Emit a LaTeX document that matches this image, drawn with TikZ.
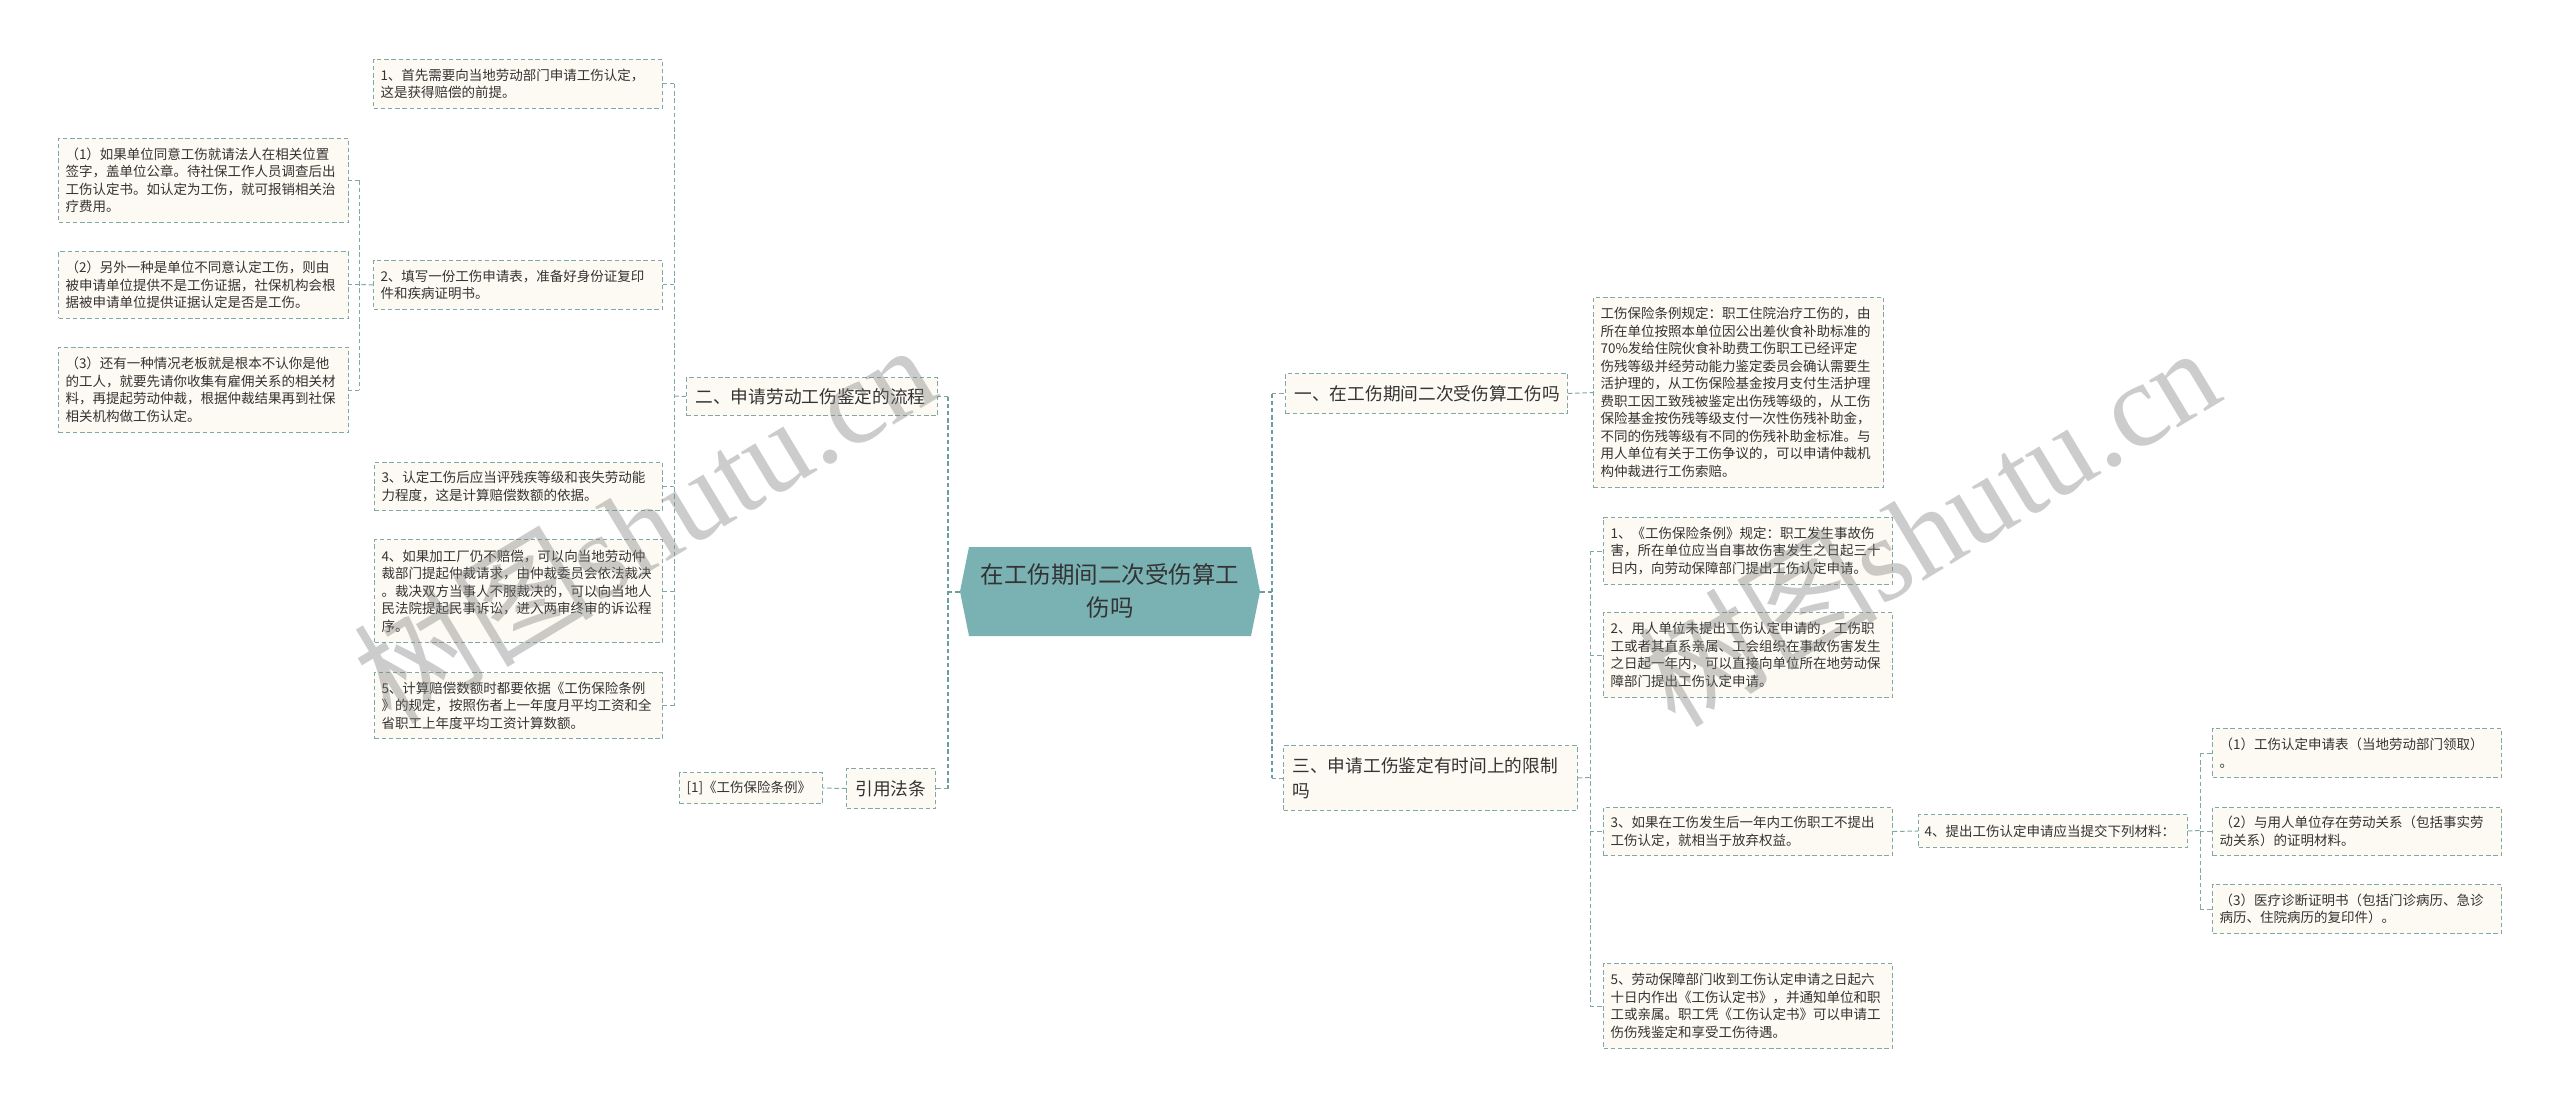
\documentclass[tikz,border=0pt]{standalone}
\usepackage{fontspec}
\setmainfont{Noto Sans CJK SC}
\newfontfamily\wmlatin{Liberation Serif}
\definecolor{lc}{HTML}{7FA9A9}
\definecolor{tl}{HTML}{6A9FA0}
\definecolor{bg}{HTML}{FCFAF2}
\definecolor{tc}{HTML}{333333}
\definecolor{cf}{HTML}{7AB2B4}
\newcommand\fsS{\fontsize{6.75pt}{8.75pt}\selectfont}
\newcommand\fsM{\fontsize{8.85pt}{12.5pt}\selectfont}
\newcommand\fsL{\fontsize{11.75pt}{16.5pt}\selectfont}
\tikzset{
  box/.style={draw=lc, line width=0.5pt, dash pattern=on 2.2pt off 1.4pt, fill=bg,
    anchor=north west, inner xsep=3.5pt, inner ysep=0pt, align=left, font=\fsS, text=tc},
  lvl/.style={box, font=\fsM, inner xsep=4.5pt},
  conn/.style={draw=lc, line width=0.5pt, dash pattern=on 2.2pt off 1.4pt},
  trunk/.style={draw=tl, line width=1pt, dash pattern=on 2.2pt off 1.4pt},
  wm/.style={text=gray, text opacity=0.4, rotate=31, inner sep=0pt}
}
\begin{document}
\begin{tikzpicture}[x=0.5pt,y=-0.5pt]
\fill[white] (0,0) rectangle (2560,1107);
\useasboundingbox (0,0) rectangle (2560,1107);

% central node
\fill[cf] (969,547) -- (1251,547) -- (1260,591.5) -- (1251,636) -- (969,636) -- (960,591.5) -- cycle;
\node[minimum width=150pt, minimum height=44.5pt, inner sep=0pt, text width=140pt, align=center, font=\fsL, text=tc] (ctr) at (1110,591.5) {在工伤期间二次受伤算工\\伤吗};

% left side
\node[lvl, text width=116.5pt, minimum height=19pt] (L2) at (686,377) {二、申请劳动工伤鉴定的流程};
\node[lvl, text width=35.5pt, minimum height=20pt] (Y) at (846,768) {引用法条};
\node[box, text width=64.5pt, minimum height=15.5pt] (R1) at (679,772) {[1]《工伤保险条例》};

\node[box, text width=137.5pt, minimum height=24.5pt] (A1) at (373,59) {1、首先需要向当地劳动部门申请工伤认定，\\这是获得赔偿的前提。};
\node[box, text width=137.5pt, minimum height=24.5pt] (A2) at (373,260) {2、填写一份工伤申请表，准备好身份证复印\\件和疾病证明书。};
\node[box, text width=137pt, minimum height=24pt] (A3) at (374,462) {3、认定工伤后应当评残疾等级和丧失劳动能\\力程度，这是计算赔偿数额的依据。};
\node[box, text width=137pt, minimum height=51.5pt] (A4) at (374,539) {4、如果加工厂仍不赔偿，可以向当地劳动仲\\裁部门提起仲裁请求，由仲裁委员会依法裁决\\。裁决双方当事人不服裁决的，可以向当地人\\民法院提起民事诉讼，进入两审终审的诉讼程\\序。};
\node[box, text width=137pt, minimum height=33pt] (A5) at (374,672) {5、计算赔偿数额时都要依据《工伤保险条例\\》的规定，按照伤者上一年度月平均工资和全\\省职工上年度平均工资计算数额。};

\node[box, text width=138pt, minimum height=42pt] (P1) at (58,138) {（1）如果单位同意工伤就请法人在相关位置\\签字，盖单位公章。待社保工作人员调查后出\\工伤认定书。如认定为工伤，就可报销相关治\\疗费用。};
\node[box, text width=138pt, minimum height=33.5pt] (P2) at (58,251) {（2）另外一种是单位不同意认定工伤，则由\\被申请单位提供不是工伤证据，社保机构会根\\据被申请单位提供证据认定是否是工伤。};
\node[box, text width=138pt, minimum height=42.5pt] (P3) at (58,347) {（3）还有一种情况老板就是根本不认你是他\\的工人，就要先请你收集有雇佣关系的相关材\\料，再提起劳动仲裁，根据仲裁结果再到社保\\相关机构做工伤认定。};

% right side
\node[lvl, text width=132pt, minimum height=20pt] (L1) at (1285,373) {一、在工伤期间二次受伤算工伤吗};
\node[lvl, text width=138pt, minimum height=32.5pt, inner xsep=4.5pt] (L3) at (1283,745) {三、申请工伤鉴定有时间上的限制\\吗};
\node[box, text width=138pt, minimum height=95pt] (B) at (1593,297) {工伤保险条例规定：职工住院治疗工伤的，由\\所在单位按照本单位因公出差伙食补助标准的\\70\%发给住院伙食补助费工伤职工已经评定\\伤残等级并经劳动能力鉴定委员会确认需要生\\活护理的，从工伤保险基金按月支付生活护理\\费职工因工致残被鉴定出伤残等级的，从工伤\\保险基金按伤残等级支付一次性伤残补助金，\\不同的伤残等级有不同的伤残补助金标准。与\\用人单位有关于工伤争议的，可以申请仲裁机\\构仲裁进行工伤索赔。};

\node[box, text width=137.5pt, minimum height=33.5pt] (C1) at (1603,517) {1、《工伤保险条例》规定：职工发生事故伤\\害，所在单位应当自事故伤害发生之日起三十\\日内，向劳动保障部门提出工伤认定申请。};
\node[box, text width=137.5pt, minimum height=42.5pt] (C2) at (1603,612) {2、用人单位未提出工伤认定申请的，工伤职\\工或者其直系亲属、工会组织在事故伤害发生\\之日起一年内，可以直接向单位所在地劳动保\\障部门提出工伤认定申请。};
\node[box, text width=137.5pt, minimum height=24pt] (C3) at (1603,807) {3、如果在工伤发生后一年内工伤职工不提出\\工伤认定，就相当于放弃权益。};
\node[box, text width=128.5pt, minimum height=16.5pt, inner xsep=3pt] (C4) at (1918,814) {4、提出工伤认定申请应当提交下列材料：};
\node[box, text width=137.5pt, minimum height=42.5pt] (C5) at (1603,963) {5、劳动保障部门收到工伤认定申请之日起六\\十日内作出《工伤认定书》，并通知单位和职\\工或亲属。职工凭《工伤认定书》可以申请工\\伤伤残鉴定和享受工伤待遇。};

\node[box, text width=137.5pt, minimum height=24.5pt] (D1) at (2212,728) {（1）工伤认定申请表（当地劳动部门领取）\\。};
\node[box, text width=137.5pt, minimum height=24pt] (D2) at (2212,807) {（2）与用人单位存在劳动关系（包括事实劳\\动关系）的证明材料。};
\node[box, text width=137.5pt, minimum height=24.5pt] (D3) at (2212,884) {（3）医疗诊断证明书（包括门诊病历、急诊\\病历、住院病历的复印件）。};

% connectors: left main
\coordinate (tL) at (948,591.5);
\draw[trunk] (ctr.west) -- (tL);
\draw[trunk] (tL|-L2.east) -- (tL|-Y.east);
\draw[conn] (tL|-L2.east) -- (L2.east);
\draw[conn] (tL|-Y.east) -- (Y.east);
\draw[conn] (Y.west) -- (R1.east);

\coordinate (tA) at (674,396);
\draw[conn] (L2.west) -- (tA);
\draw[conn] (tA|-A1.east) -- (tA|-A5.east);
\foreach \n in {A1,A2,A3,A4,A5} \draw[conn] (tA|-\n.east) -- (\n.east);

\coordinate (tP) at (359,284.5);
\draw[conn] (A2.west) -- (tP);
\draw[conn] (tP|-P1.east) -- (tP|-P3.east);
\foreach \n in {P1,P2,P3} \draw[conn] (tP|-\n.east) -- (\n.east);

% right main
\coordinate (tR) at (1272,591.5);
\draw[trunk] (ctr.east) -- (tR);
\draw[trunk] (tR|-L1.west) -- (tR|-L3.west);
\draw[conn] (tR|-L1.west) -- (L1.west);
\draw[conn] (tR|-L3.west) -- (L3.west);
\draw[conn] (L1.east) -- (B.west);

\coordinate (tC) at (1590,777.5);
\draw[conn] (L3.east) -- (tC);
\draw[conn] (tC|-C1.west) -- (tC|-C5.west);
\foreach \n in {C1,C2,C3,C5} \draw[conn] (tC|-\n.west) -- (\n.west);
\draw[conn] (C3.east) -- (C4.west);

\coordinate (tD) at (2200,830.5);
\draw[conn] (C4.east) -- (tD);
\draw[conn] (tD|-D1.west) -- (tD|-D3.west);
\foreach \n in {D1,D2,D3} \draw[conn] (tD|-\n.west) -- (\n.west);

% watermarks
\node[wm, font=\fontsize{60pt}{60pt}\selectfont] (wm1) at (644,522) {树图\wmlatin shutu.cn};
\node[wm, font=\fontsize{60pt}{60pt}\selectfont] (wm2) at (1928,525) {树图\wmlatin shutu.cn};
\end{tikzpicture}
\end{document}
